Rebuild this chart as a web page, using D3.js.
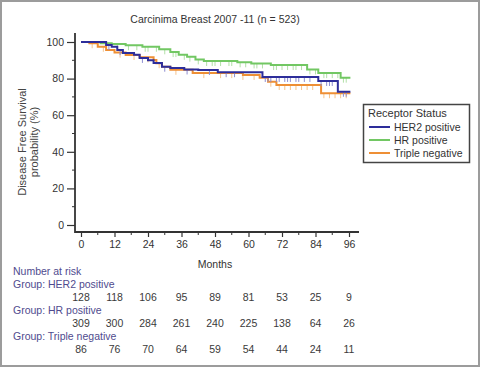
<!DOCTYPE html>
<html>
<head>
<meta charset="utf-8">
<script src="https://cdn.jsdelivr.net/npm/d3@7"></script>
<style>
  body { margin: 0; background: #fff; }
  text { font-family: "Liberation Sans", Arial, sans-serif; }
</style>
</head>
<body>
<div id="entry"></div>
<script>
// step change points (months, survival %)
const her2Times  = [0, 9, 11, 13, 15, 19, 21, 24, 26, 29, 32, 37, 42, 49, 65, 85, 92];
const her2Values = [100, 98.4, 97.4, 95.6, 94, 93, 91.3, 90, 88.5, 86.5, 85.8, 85, 84.7, 83.5, 80.9, 78.7, 72.8];
const hrTimes    = [0, 7, 11, 16, 22, 28, 32, 35, 38, 41, 44, 56, 61, 68, 81, 85, 93];
const hrValues   = [100, 99.3, 98.9, 98.2, 97.4, 96, 94.5, 93, 92, 90.5, 89.6, 88.9, 88.3, 87.4, 85, 83, 80.5];
const tnTimes    = [0, 3, 6, 9, 12, 16, 21, 26, 27, 29, 32, 40, 58, 64, 67, 70, 86];
const tnValues   = [100, 99.3, 97.4, 95.6, 94.2, 92.9, 91.6, 90.2, 88.4, 86.5, 84.8, 83, 82, 80.5, 78.3, 76.5, 72];
const endMonth = 96.5;

// censor marks (months)
const her2Cens = [10, 14, 22, 30, 38, 46, 52, 55, 66, 67, 68, 70, 71, 73, 74, 75, 77, 78, 80, 82, 86, 88, 89, 90, 94, 95];
const hrCens   = [13, 17, 20, 23, 24, 27, 30, 33, 34, 37, 39, 42, 45, 47, 48, 50, 53, 54, 57, 59, 62, 63, 65, 69, 70, 72, 74, 76, 77, 79, 82, 84, 87, 88, 90, 92, 94, 95];
const tnCens   = [4, 8, 14, 19, 24, 28, 34, 44, 50, 54, 58, 62, 68, 71, 73, 75, 77, 79, 81, 83, 87, 89, 91, 93, 95];

const xTicks = [0, 12, 24, 36, 48, 60, 72, 84, 96];
const yTicks = [0, 20, 40, 60, 80, 100];

const groupNames = ["HER2 positive", "HR positive", "Triple negative"];
const her2Risk = [128, 118, 106, 95, 89, 81, 53, 25, 9];
const hrRisk   = [309, 300, 284, 261, 240, 225, 138, 64, 26];
const tnRisk   = [86, 76, 70, 64, 59, 54, 44, 24, 11];

class KMChart {
    constructor(width, height){
        this.width = width;
        this.height = height;
        this.x = d3.scaleLinear().domain([0, 96]).range([81, 349]);
        this.y = d3.scaleLinear().domain([0, 100]).range([225, 42]);
        this.groups = [
            {name: groupNames[0], times: her2Times, values: her2Values, cens: her2Cens, risk: her2Risk, color: '#2d2d9a', light: '#8d8dd0'},
            {name: groupNames[1], times: hrTimes, values: hrValues, cens: hrCens, risk: hrRisk, color: '#72c763', light: '#b2e0a8'},
            {name: groupNames[2], times: tnTimes, values: tnValues, cens: tnCens, risk: tnRisk, color: '#ee8f35', light: '#f6c48e'}
        ];
    }

    createSVG(){
        const svg = d3.select('#entry')
            .append('svg')
            .attr('width', this.width)
            .attr('height', this.height);
        svg.append('rect')
            .attr('x', 1).attr('y', 1)
            .attr('width', this.width - 2)
            .attr('height', this.height - 2)
            .attr('fill', '#fff')
            .attr('stroke', '#9c9c9c')
            .attr('stroke-width', 2);
        return svg;
    }

    createAxes(svg){
        const x = this.x, y = this.y;

        // y axis
        const yAxis = svg.append('g')
            .attr('transform', 'translate(75,0)')
            .call(d3.axisLeft(y).tickValues(yTicks).tickSize(8).tickPadding(3));
        yAxis.select('.domain').remove();
        yAxis.selectAll('line').attr('stroke', '#333').attr('stroke-width', 1.2);
        yAxis.selectAll('text').attr('font-size', '10.5px').attr('fill', '#333')
            .attr('font-family', '"Liberation Sans", Arial, sans-serif');
        svg.append('g').selectAll('line')
            .data([10, 30, 50, 70, 90])
            .enter().append('line')
            .attr('x1', 72).attr('x2', 75)
            .attr('y1', d => y(d)).attr('y2', d => y(d))
            .attr('stroke', '#333');

        // x axis
        const xAxis = svg.append('g')
            .attr('transform', 'translate(0,232)')
            .call(d3.axisBottom(x).tickValues(xTicks).tickSize(5).tickPadding(4));
        xAxis.select('.domain').remove();
        xAxis.selectAll('line').attr('stroke', '#333').attr('stroke-width', 1.2);
        xAxis.selectAll('text').attr('font-size', '10.5px').attr('fill', '#333')
            .attr('font-family', '"Liberation Sans", Arial, sans-serif');
        svg.append('g').selectAll('line')
            .data([6, 18, 30, 42, 54, 66, 78, 90])
            .enter().append('line')
            .attr('x1', d => x(d)).attr('x2', d => x(d))
            .attr('y1', 232).attr('y2', 235)
            .attr('stroke', '#333');

        svg.append('path')
            .attr('d', 'M75,33 L75,232 L359,232')
            .attr('fill', 'none')
            .attr('stroke', '#333')
            .attr('stroke-width', 1.8);

        svg.append('text')
            .attr('x', 215).attr('y', 268)
            .attr('text-anchor', 'middle')
            .attr('font-size', '10.5px')
            .attr('fill', '#333')
            .text('Months');

        const yl = svg.append('text')
            .attr('transform', 'translate(26,142) rotate(-90)')
            .attr('text-anchor', 'middle')
            .attr('font-size', '11px')
            .attr('fill', '#444');
        yl.append('tspan').attr('x', 0).attr('dy', 0).text('Disease Free Survival');
        yl.append('tspan').attr('x', 0).attr('dy', 12).text('probability (%)');
    }

    survivalAt(grp, t){
        const i = d3.bisectRight(grp.times, t) - 1;
        return grp.values[Math.max(i, 0)];
    }

    createCurves(svg){
        const that = this;
        const line = d3.line()
            .x(d => that.x(d[0]))
            .y(d => that.y(d[1]))
            .curve(d3.curveStepAfter);

        // draw green first, then orange, blue on top
        const order = [1, 2, 0];
        order.forEach(function(k){
            const grp = that.groups[k];
            const pts = grp.times.map((t, i) => [t, grp.values[i]]);
            pts.push([endMonth, grp.values[grp.values.length - 1]]);

            svg.append('g').selectAll('line')
                .data(grp.cens)
                .enter().append('line')
                .attr('x1', d => that.x(d)).attr('x2', d => that.x(d))
                .attr('y1', d => that.y(that.survivalAt(grp, d)))
                .attr('y2', d => that.y(that.survivalAt(grp, d)) + 5)
                .attr('stroke', grp.light)
                .attr('stroke-width', 1);

            svg.append('path')
                .datum(pts)
                .attr('d', line)
                .attr('fill', 'none')
                .attr('stroke', grp.color)
                .attr('stroke-width', 2);
        });
    }

    createLegend(svg){
        const lg = svg.append('g');
        lg.append('rect')
            .attr('x', 363.5).attr('y', 104.5)
            .attr('width', 106).attr('height', 58)
            .attr('fill', '#fff')
            .attr('stroke', '#444')
            .attr('stroke-width', 1.5);
        lg.append('text')
            .attr('x', 368).attr('y', 117)
            .attr('font-size', '11px')
            .attr('fill', '#333')
            .text('Receptor Status');
        const items = lg.selectAll('g.item')
            .data(this.groups)
            .enter().append('g')
            .attr('transform', (d, i) => `translate(0,${127 + i * 13})`);
        items.append('line')
            .attr('x1', 369).attr('x2', 390)
            .attr('stroke', d => d.color)
            .attr('stroke-width', 2);
        items.append('text')
            .attr('x', 394).attr('y', 4)
            .attr('font-size', '10.5px')
            .attr('fill', '#333')
            .text(d => d.name);
    }

    createRiskTable(svg){
        const that = this;
        const purple = '#4f4b8e';
        svg.append('text')
            .attr('x', 13).attr('y', 275)
            .attr('font-size', '10.5px')
            .attr('fill', purple)
            .text('Number at risk');

        this.groups.forEach(function(grp, i){
            const top = 288 + i * 26;
            svg.append('text')
                .attr('x', 13).attr('y', top)
                .attr('font-size', '10.5px')
                .attr('fill', purple)
                .text('Group: ' + grp.name);
            svg.append('g').selectAll('text')
                .data(grp.risk)
                .enter().append('text')
                .attr('x', (d, j) => that.x(xTicks[j]))
                .attr('y', top + 13)
                .attr('text-anchor', 'middle')
                .attr('font-size', '10.5px')
                .attr('fill', '#3a3a3a')
                .text(d => d);
        });
    }

    createTitle(svg){
        svg.append('text')
            .attr('x', 215).attr('y', 23)
            .attr('text-anchor', 'middle')
            .attr('font-size', '10.5px')
            .attr('fill', '#333')
            .text('Carcinima Breast 2007 -11 (n = 523)');
    }

    main(){
        const svg = this.createSVG();
        this.createTitle(svg);
        this.createAxes(svg);
        this.createCurves(svg);
        this.createLegend(svg);
        this.createRiskTable(svg);
    }
}

const chart = new KMChart(480, 367);
chart.main();
</script>
</body>
</html>
